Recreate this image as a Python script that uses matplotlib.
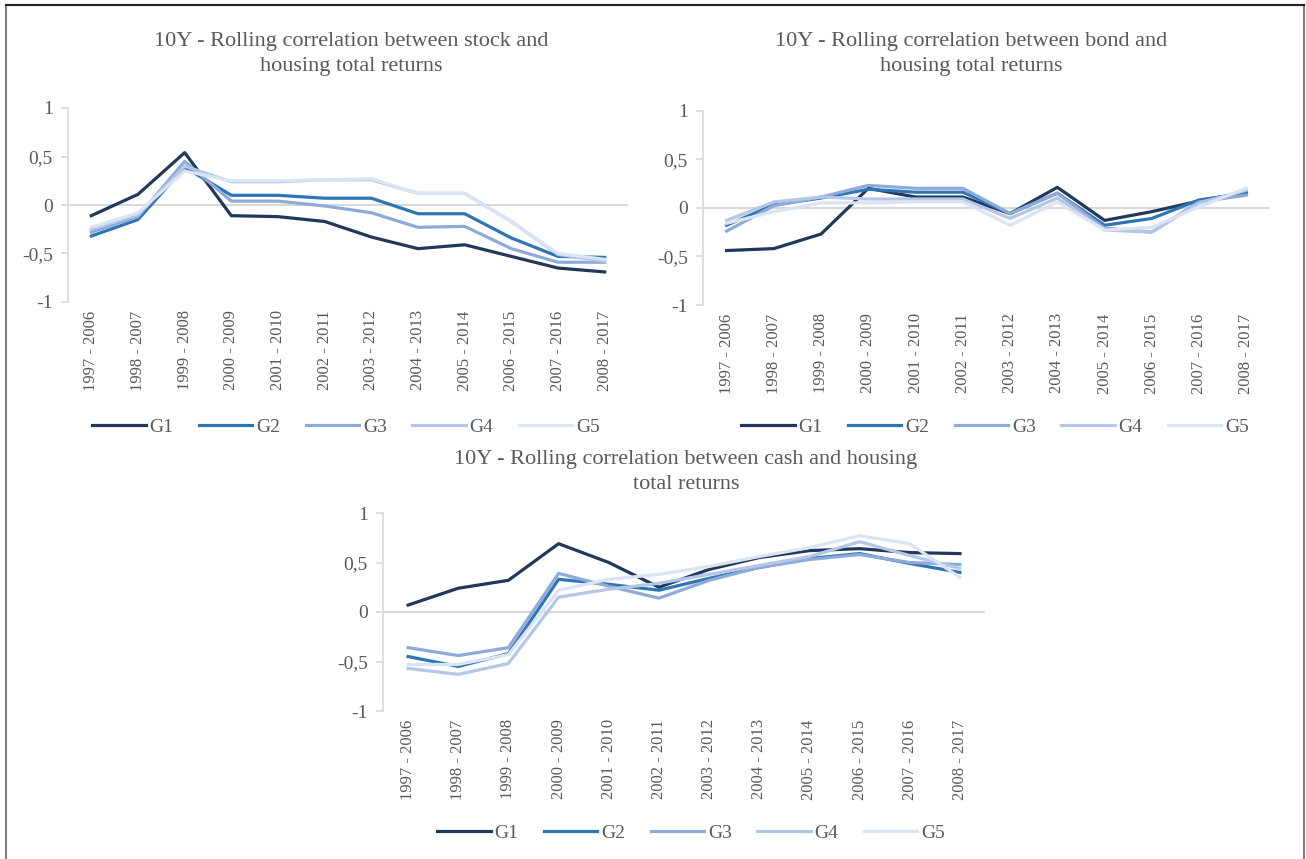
import matplotlib
matplotlib.use('Agg')
import matplotlib.pyplot as plt
from matplotlib.ticker import FuncFormatter
from matplotlib.patches import Rectangle

periods = ['1997 - 2006', '1998 - 2007', '1999 - 2008', '2000 - 2009', '2001 - 2010',
           '2002 - 2011', '2003 - 2012', '2004 - 2013', '2005 - 2014', '2006 - 2015',
           '2007 - 2016', '2008 - 2017']
groups = ['G1', 'G2', 'G3', 'G4', 'G5']

# stock vs housing
stock_g1 = [-0.11, 0.11, 0.54, -0.11, -0.12, -0.17, -0.33, -0.45, -0.41, -0.53, -0.65, -0.69]
stock_g2 = [-0.32, -0.15, 0.39, 0.10, 0.10, 0.07, 0.07, -0.09, -0.09, -0.34, -0.53, -0.54]
stock_g3 = [-0.28, -0.12, 0.45, 0.04, 0.04, -0.01, -0.08, -0.23, -0.22, -0.45, -0.59, -0.59]
stock_g4 = [-0.25, -0.10, 0.40, 0.24, 0.24, 0.26, 0.26, 0.12, 0.12, -0.17, -0.51, -0.58]
stock_g5 = [-0.23, -0.08, 0.35, 0.25, 0.25, 0.26, 0.27, 0.12, 0.12, -0.17, -0.50, -0.56]

# bond vs housing
bond_g1 = [-0.44, -0.42, -0.27, 0.20, 0.11, 0.11, -0.06, 0.21, -0.13, -0.04, 0.07, 0.16]
bond_g2 = [-0.18, 0.03, 0.10, 0.19, 0.16, 0.16, -0.06, 0.15, -0.18, -0.11, 0.08, 0.15]
bond_g3 = [-0.24, 0.02, 0.11, 0.23, 0.20, 0.20, -0.06, 0.15, -0.21, -0.25, 0.06, 0.13]
bond_g4 = [-0.13, 0.06, 0.11, 0.09, 0.09, 0.09, -0.11, 0.10, -0.23, -0.25, 0.05, 0.18]
bond_g5 = [-0.16, -0.04, 0.05, 0.05, 0.06, 0.06, -0.18, 0.06, -0.23, -0.20, 0.01, 0.20]

# cash vs housing
cash_g1 = [0.07, 0.24, 0.32, 0.69, 0.50, 0.25, 0.43, 0.55, 0.62, 0.64, 0.60, 0.59]
cash_g2 = [-0.45, -0.55, -0.42, 0.33, 0.28, 0.22, 0.34, 0.45, 0.54, 0.59, 0.49, 0.40]
cash_g3 = [-0.36, -0.44, -0.36, 0.39, 0.26, 0.14, 0.32, 0.45, 0.53, 0.58, 0.50, 0.48]
cash_g4 = [-0.57, -0.63, -0.52, 0.15, 0.23, 0.29, 0.38, 0.47, 0.56, 0.71, 0.57, 0.44]
cash_g5 = [-0.53, -0.53, -0.43, 0.22, 0.33, 0.38, 0.46, 0.56, 0.65, 0.77, 0.69, 0.35]

colors = ['#21385a', '#2e75b6', '#8eaad9', '#b4c7e7', '#dbe4f3']
txt = '#595959'
grid = '#d9d9d9'

plt.rcParams['font.family'] = ['Liberation Serif', 'DejaVu Serif']

fig = plt.figure(figsize=(13.06, 8.59), dpi=100)
# outer frame
fig.patches.append(Rectangle((6 / 1306, -0.01), 1298 / 1306, 1 - 5 / 859 + 0.01,
                             transform=fig.transFigure, fill=False,
                             edgecolor='#7f7f7f', linewidth=1.5))
fig.add_artist(plt.Line2D([6 / 1306, 1304 / 1306], [1 - 5 / 859] * 2,
                          transform=fig.transFigure, color='#222222', linewidth=1.5))


def comma(v, pos):
    return ('%g' % v).replace('.', ',')


def draw(rect, series, title, title_xy, legend_xy):
    ax = fig.add_axes(rect)
    x = list(range(len(periods)))
    for s, c, g in zip(series, colors, groups):
        ax.plot(x, s, color=c, linewidth=2.3, label=g)
    ax.axhline(0, color=grid, linewidth=1.5, zorder=0)
    ax.set_xlim(-0.5, len(periods) - 0.5)
    ax.set_ylim(-1, 1)
    ax.set_yticks([-1, -0.5, 0, 0.5, 1])
    ax.yaxis.set_major_formatter(FuncFormatter(comma))
    ax.set_xticks(x)
    ax.set_xticklabels(periods, rotation=90, fontsize=12, color=txt)
    ax.tick_params(axis='x', length=0, pad=6)
    ax.tick_params(axis='y', labelsize=14, labelcolor=txt, color=grid, length=5, width=1.2, pad=6)
    for sp in ['top', 'right', 'bottom']:
        ax.spines[sp].set_visible(False)
    ax.spines['left'].set_color(grid)
    ax.spines['left'].set_linewidth(1.2)
    fig.text(title_xy[0], title_xy[1], title, ha='center', va='center',
             fontsize=16, color=txt, linespacing=1.4)
    leg = ax.legend(loc='center', ncol=5, frameon=False, fontsize=14, labelcolor=txt,
                    handlelength=2.75, handletextpad=0.2, columnspacing=1.3)
    leg.set_bbox_to_anchor(legend_xy, transform=fig.transFigure)
    return ax


draw([68 / 1306, 1 - 302 / 859, 560 / 1306, 194 / 859],
     [stock_g1, stock_g2, stock_g3, stock_g4, stock_g5],
     '10Y - Rolling correlation between stock and\nhousing total returns',
     (351 / 1306, 1 - 54 / 859), (346 / 1306, 1 - 427 / 859))

draw([703 / 1306, 1 - 305 / 859, 567 / 1306, 194.5 / 859],
     [bond_g1, bond_g2, bond_g3, bond_g4, bond_g5],
     '10Y - Rolling correlation between bond and\nhousing total returns',
     (971 / 1306, 1 - 54 / 859), (995 / 1306, 1 - 427 / 859))

draw([383 / 1306, 1 - 711 / 859, 602 / 1306, 198 / 859],
     [cash_g1, cash_g2, cash_g3, cash_g4, cash_g5],
     '10Y - Rolling correlation between cash and housing\ntotal returns',
     (686 / 1306, 1 - 472 / 859), (691 / 1306, 1 - 833 / 859))

fig.savefig('out.png', dpi=100)
